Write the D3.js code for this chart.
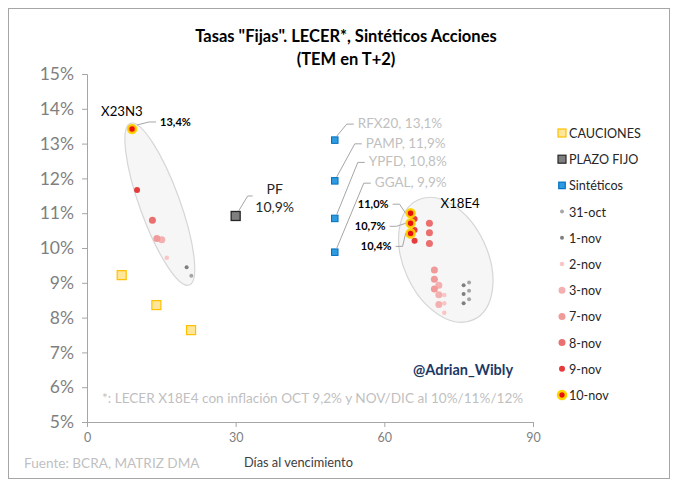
<!DOCTYPE html>
<html lang="es">
<head>
    <meta charset="UTF-8" />
    <title>Tasas Fijas - LECER, Sintéticos Acciones</title>
    <script src="https://d3js.org/d3.v7.min.js"></script>
    <style>
        body { margin: 0; background: #fff; }
        svg text { font-family: Lato, "Open Sans", sans-serif; }
    </style>
</head>
<body>
    <script>
        // --- data ---
        var fechas = ["31-oct", "1-nov", "2-nov", "3-nov", "7-nov", "8-nov", "9-nov", "10-nov"];

        var caucionDias = [7, 14, 21];
        var caucionTasas = [9.22, 8.36, 7.64];

        var pfDias = [30];
        var pfTasas = [10.92];

        var sintNombres = ["RFX20, 13,1%", "PAMP, 11,9%", "YPFD, 10,8%", "GGAL, 9,9%"];
        var sintDias = [50, 50, 50, 50];
        var sintTasas = [13.1, 11.93, 10.85, 9.88];

        var x23n3Dias = [21.05, 20.1, 16.1, 15.1, 14.1, 13.2, 10.1, 9.1];
        var x23n3Tasas = [9.2, 9.45, 9.72, 10.24, 10.27, 10.8, 11.67, 13.42];

        // X18E4: three inflation scenarios per date
        var x18e4Dias = [77.1, 76.0, 72.1, 71.0, 70.1, 69.1, 66.1, 65.3];
        var x18e4TasasAlta = [9.01, 8.93, 8.65, 8.93, 9.37, 10.71, 10.83, 11.0];
        var x18e4TasasMedia = [8.77, 8.68, 8.41, 8.66, 9.1, 10.44, 10.52, 10.71];
        var x18e4TasasBaja = [8.53, 8.41, 8.14, 8.38, 8.82, 10.13, 10.21, 10.42];

        var xTicks = [0, 30, 60, 90];
        var yTicks = [5, 6, 7, 8, 9, 10, 11, 12, 13, 14, 15];

        // --- styles per date ---
        var fechaColor = ["#a6a6a6", "#7f7f7f", "#f8c6c6", "#f4b0b0", "#f19a9a", "#eb6f6f", "#e63b3b", "#e8100c"];
        var fechaRadio = [2, 2, 2.3, 3.5, 3.5, 3.5, 3, 4];

        var w = 680;
        var h = 491;

        var svg = d3.select("body")
            .append("svg")
            .attr("width", w)
            .attr("height", h);

        // outer frame
        svg.append("rect")
            .attr("x", 8.5).attr("y", 8.5)
            .attr("width", 661).attr("height", 470)
            .attr("fill", "none")
            .attr("stroke", "#a6a6a6");

        // title
        svg.append("text")
            .attr("x", 346).attr("y", 42)
            .attr("text-anchor", "middle")
            .attr("font-size", 16.5).attr("font-weight", "bold")
            .attr("fill", "#000")
            .text('Tasas "Fijas". LECER*, Sintéticos Acciones');
        svg.append("text")
            .attr("x", 346).attr("y", 65)
            .attr("text-anchor", "middle")
            .attr("font-size", 16.5).attr("font-weight", "bold")
            .attr("fill", "#000")
            .text("(TEM en T+2)");

        // scales
        var xScale = d3.scaleLinear().domain([0, 90]).range([87, 533]);
        var yScale = d3.scaleLinear().domain([5, 15]).range([422, 74]);

        // axes
        var yAxis = d3.axisLeft(yScale)
            .tickValues(yTicks)
            .tickSize(5)
            .tickPadding(8)
            .tickFormat(function(d) { return d + "%"; });
        var gy = svg.append("g")
            .attr("transform", "translate(" + xScale(0) + ",0)")
            .call(yAxis);
        gy.select(".domain").attr("stroke", "#a6a6a6");
        gy.selectAll(".tick line").attr("stroke", "#a6a6a6");
        gy.selectAll(".tick text")
            .attr("font-size", 17.5)
            .attr("fill", "#7f7f7f")
            .style("font-family", "Lato, sans-serif");

        var xAxis = d3.axisBottom(xScale)
            .tickValues(xTicks)
            .tickSize(5)
            .tickSizeOuter(0)
            .tickPadding(6);
        var gx = svg.append("g")
            .attr("transform", "translate(0," + yScale(5) + ")")
            .call(xAxis);
        gx.select(".domain").attr("stroke", "#a6a6a6");
        gx.selectAll(".tick line").attr("stroke", "#a6a6a6");
        gx.selectAll(".tick text")
            .attr("font-size", 12.5)
            .attr("fill", "#7f7f7f")
            .style("font-family", "Lato, sans-serif");

        // ellipses around each LECER series (centre in data units)
        var elipses = [
            { dia: 14.7, tasa: 11.26, rx: 86, ry: 20, ang: 70 },
            { dia: 72.4, tasa: 9.66, rx: 66, ry: 42, ang: 65 }
        ];
        svg.selectAll(".elipse")
            .data(elipses)
            .enter()
            .append("ellipse")
            .attr("class", "elipse")
            .attr("transform", function(d) {
                return "translate(" + xScale(d.dia) + "," + yScale(d.tasa) + ") rotate(" + d.ang + ")";
            })
            .attr("rx", function(d) { return d.rx; })
            .attr("ry", function(d) { return d.ry; })
            .attr("fill", "#f4f4f4")
            .attr("fill-opacity", 0.8)
            .attr("stroke", "#d6d6d6")
            .attr("stroke-width", 1.2);

        // dated points
        function puntos(dias, tasas) {
            return dias.map(function(d, i) {
                return { dia: d, tasa: tasas[i], i: i };
            });
        }
        var lecerPuntos = puntos(x23n3Dias, x23n3Tasas)
            .concat(puntos(x18e4Dias, x18e4TasasAlta))
            .concat(puntos(x18e4Dias, x18e4TasasMedia))
            .concat(puntos(x18e4Dias, x18e4TasasBaja));
        lecerPuntos.sort(function(a, b) { return a.i - b.i; });

        svg.selectAll(".lecer")
            .data(lecerPuntos)
            .enter()
            .append("circle")
            .attr("class", "lecer")
            .attr("cx", function(d) { return xScale(d.dia); })
            .attr("cy", function(d) { return yScale(d.tasa); })
            .attr("r", function(d) { return fechaRadio[d.i]; })
            .attr("fill", function(d) { return fechaColor[d.i]; })
            .attr("stroke", function(d) { return d.i === 7 ? "#ffd400" : "none"; })
            .attr("stroke-width", function(d) { return d.i === 7 ? 2.6 : 0; })
            .attr("stroke-opacity", 0.9);

        // square markers
        function cuadrados(cls, dias, tasas, size, fill, stroke, sw) {
            svg.selectAll("." + cls)
                .data(puntos(dias, tasas))
                .enter()
                .append("rect")
                .attr("class", cls)
                .attr("x", function(d) { return xScale(d.dia) - size / 2; })
                .attr("y", function(d) { return yScale(d.tasa) - size / 2; })
                .attr("width", size)
                .attr("height", size)
                .attr("fill", fill)
                .attr("stroke", stroke)
                .attr("stroke-width", sw);
        }
        cuadrados("caucion", caucionDias, caucionTasas, 9, "#ffe699", "#ffc000", 1.2);
        cuadrados("pf", pfDias, pfTasas, 9, "#7f7f7f", "#262626", 1.3);
        cuadrados("sint", sintDias, sintTasas, 6.5, "#2e9be0", "#0070c0", 1);

        // leader lines + labels
        var lider = "#a6a6a6";
        function etiqueta(px, py, lx, ly, texto, anchor, attrs) {
            var dir = anchor === "end" ? 1 : -1;
            var e1 = lx + dir * 11, e2 = lx + dir * 4;
            svg.append("polyline")
                .attr("points", [[px, py], [e1, ly - 4], [e2, ly - 4]].join(" "))
                .attr("fill", "none")
                .attr("stroke", lider)
                .attr("stroke-width", 1);
            var t = svg.append("text")
                .attr("x", lx).attr("y", ly)
                .attr("text-anchor", anchor)
                .text(texto);
            for (var k in attrs) t.attr(k, attrs[k]);
        }

        var sintOff = [[23, -12], [31, -33], [34, -52], [40, -65]];
        sintNombres.forEach(function(n, i) {
            var px = xScale(sintDias[i]), py = yScale(sintTasas[i]);
            etiqueta(px + 2, py - 4, px + sintOff[i][0], py + sintOff[i][1], n, "start",
                { "font-size": 13.5, "fill": "#bfbfbf" });
        });

        // PF label
        var pfx = xScale(pfDias[0]), pfy = yScale(pfTasas[0]);
        svg.append("polyline")
            .attr("points", [[pfx + 3, pfy - 5], [pfx + 12, pfy - 20], [pfx + 17, pfy - 20]].join(" "))
            .attr("fill", "none").attr("stroke", lider);
        svg.append("text").attr("x", pfx + 39).attr("y", pfy - 22)
            .attr("text-anchor", "middle").attr("font-size", 14).attr("fill", "#262626").text("PF");
        svg.append("text").attr("x", pfx + 39).attr("y", pfy - 4)
            .attr("text-anchor", "middle").attr("font-size", 14).attr("fill", "#262626").text("10,9%");

        // X23N3 label
        var ux = xScale(x23n3Dias[7]), uy = yScale(x23n3Tasas[7]);
        etiqueta(ux + 5, uy - 4, ux + 28, uy - 3, "13,4%", "start",
            { "font-size": 11, "font-weight": "bold", "fill": "#000" });
        svg.append("text").attr("x", ux - 31).attr("y", uy - 13)
            .attr("font-size", 13.2).attr("fill", "#000").text("X23N3");

        // X18E4 labels (10-nov)
        var ultimas = [x18e4TasasAlta[7], x18e4TasasMedia[7], x18e4TasasBaja[7]];
        var ultOff = [[-22, -5], [-25, 7], [-19, 17]];
        ultimas.forEach(function(v, i) {
            var px = xScale(x18e4Dias[7]), py = yScale(v);
            etiqueta(px - 5, py, px + ultOff[i][0], py + ultOff[i][1],
                d3.format(".1f")(v).replace(".", ",") + "%", "end",
                { "font-size": 11, "font-weight": "bold", "fill": "#000" });
        });
        svg.append("text").attr("x", xScale(x18e4Dias[7]) + 30).attr("y", yScale(x18e4TasasAlta[7]) - 5)
            .attr("font-size", 13.2).attr("fill", "#000").text("X18E4");

        // notes
        svg.append("text").attr("x", 413).attr("y", 375)
            .attr("font-size", 14.5).attr("font-weight", "bold").attr("fill", "#203864")
            .text("@Adrian_Wibly");
        svg.append("text").attr("x", 102).attr("y", 403)
            .attr("font-size", 13.6).attr("fill", "#bfbfbf")
            .text("*: LECER X18E4 con inflación OCT 9,2% y NOV/DIC al 10%/11%/12%");
        svg.append("text").attr("x", 24).attr("y", 468)
            .attr("font-size", 13.6).attr("fill", "#bfbfbf")
            .text("Fuente: BCRA, MATRIZ DMA");
        svg.append("text").attr("x", 244).attr("y", 467)
            .attr("font-size", 12.8).attr("fill", "#404040")
            .text("Días al vencimiento");

        // legend
        var legX = 562, legY0 = 133, legStep = 26.2;
        var leyenda = [
            { nombre: "CAUCIONES", tipo: "sq", size: 8, fill: "#ffe699", stroke: "#ffc000" },
            { nombre: "PLAZO FIJO", tipo: "sq", size: 8, fill: "#7f7f7f", stroke: "#262626" },
            { nombre: "Sintéticos", tipo: "sq", size: 6.5, fill: "#2e9be0", stroke: "#0070c0" }
        ].concat(fechas.map(function(f, i) {
            return { nombre: f, tipo: "dot", i: i };
        }));
        var lg = svg.selectAll(".leg")
            .data(leyenda)
            .enter()
            .append("g")
            .attr("class", "leg")
            .attr("transform", function(d, i) {
                return "translate(" + legX + "," + (legY0 + i * legStep) + ")";
            });
        lg.filter(function(d) { return d.tipo === "sq"; })
            .append("rect")
            .attr("x", function(d) { return -d.size / 2; })
            .attr("y", function(d) { return -d.size / 2; })
            .attr("width", function(d) { return d.size; })
            .attr("height", function(d) { return d.size; })
            .attr("fill", function(d) { return d.fill; })
            .attr("stroke", function(d) { return d.stroke; })
            .attr("stroke-width", 1.2);
        lg.filter(function(d) { return d.tipo === "dot"; })
            .append("circle")
            .attr("r", function(d) { return fechaRadio[d.i]; })
            .attr("fill", function(d) { return fechaColor[d.i]; })
            .attr("stroke", function(d) { return d.i === 7 ? "#ffd400" : "none"; })
            .attr("stroke-width", function(d) { return d.i === 7 ? 2.6 : 0; });
        lg.append("text")
            .attr("x", 7)
            .attr("y", 5)
            .attr("font-size", 12.6)
            .attr("fill", "#262626")
            .text(function(d) { return d.nombre; });
    </script>
</body>
</html>
